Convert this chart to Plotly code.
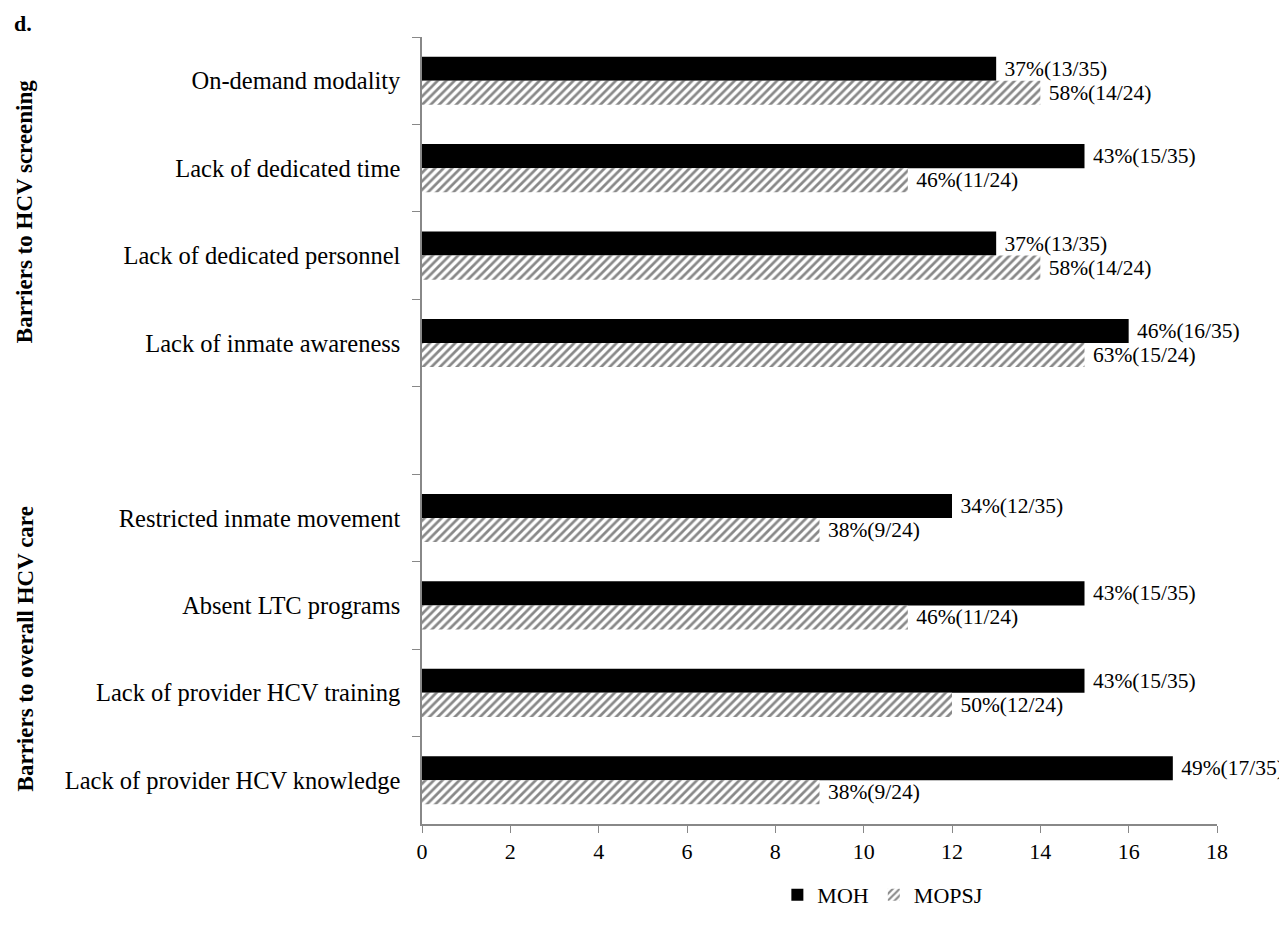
import plotly.graph_objects as go

categories = [
    "On-demand modality",
    "Lack of dedicated time",
    "Lack of dedicated personnel",
    "Lack of inmate awareness",
    " ",
    "Restricted inmate movement",
    "Absent LTC programs",
    "Lack of provider HCV training",
    "Lack of provider HCV knowledge",
]
moh_values = [13, 15, 13, 16, None, 12, 15, 15, 17]
mopsj_values = [14, 11, 14, 15, None, 9, 11, 12, 9]
moh_labels = ["37%(13/35)", "43%(15/35)", "37%(13/35)", "46%(16/35)", "",
              "34%(12/35)", "43%(15/35)", "43%(15/35)", "49%(17/35)"]
mopsj_labels = ["58%(14/24)", "46%(11/24)", "58%(14/24)", "63%(15/24)", "",
                "38%(9/24)", "46%(11/24)", "50%(12/24)", "38%(9/24)"]
group_titles = ["Barriers to HCV screening", "Barriers to overall HCV care"]
x_ticks = list(range(0, 19, 2))

FONT = "Liberation Serif, Times New Roman, serif"
pad = "\u00a0"

fig = go.Figure()
fig.add_trace(go.Bar(
    name="MOH", y=categories, x=moh_values, orientation="h",
    marker=dict(color="#000000", line=dict(width=0)),
    text=[pad + t if t else "" for t in moh_labels], textposition="outside",
    textfont=dict(family=FONT, size=21.5, color="#000"), cliponaxis=False,
))
fig.add_trace(go.Bar(
    name="MOPSJ", y=categories, x=mopsj_values, orientation="h",
    marker=dict(color="#ffffff", line=dict(width=0),
                pattern=dict(shape="/", fgcolor="#111111", bgcolor="#ffffff",
                             size=6, solidity=0.45)),
    text=[pad + t if t else "" for t in mopsj_labels], textposition="outside",
    textfont=dict(family=FONT, size=21.5, color="#000"), cliponaxis=False,
))

fig.update_layout(
    width=1279, height=920,
    margin=dict(l=414, r=70, t=29, b=88),
    paper_bgcolor="white", plot_bgcolor="white",
    barmode="group", bargap=0.45, bargroupgap=0,
    font=dict(family=FONT, size=22, color="#000"),
    showlegend=True,
    legend=dict(orientation="h", x=0.447, xanchor="left", y=-0.09, yanchor="middle",
                font=dict(family=FONT, size=22, color="#000"), itemwidth=30,
                bgcolor="rgba(0,0,0,0)"),
    xaxis=dict(range=[0, 18], tickvals=x_ticks, ticks="outside", ticklen=7,
               tickcolor="#888", showline=True, linecolor="#888", linewidth=1.5,
               showgrid=False, zeroline=False,
               tickfont=dict(family=FONT, size=22, color="#000")),
    yaxis=dict(type="category", categoryorder="array", categoryarray=categories,
               range=[len(categories) - 0.5, -0.5], tickson="boundaries",
               ticks="outside", ticklen=8, tickcolor="#888", showline=True,
               linecolor="#888", linewidth=1.5, showgrid=False, zeroline=False,
               ticklabelstandoff=15,
               tickfont=dict(family=FONT, size=24.5, color="#000")),
)

fig.add_annotation(text="<b>d.</b>", xref="paper", yref="paper", x=-0.516, y=1.0174,
                   xanchor="left", yanchor="middle", showarrow=False,
                   font=dict(family=FONT, size=22, color="#000"))
for title, ypos in zip(group_titles, [1.5, 6.5]):
    fig.add_annotation(text="<b>" + title + "</b>", xref="paper", yref="y",
                       x=-0.499, y=ypos, textangle=-90, showarrow=False,
                       xanchor="center", yanchor="middle",
                       font=dict(family=FONT, size=23, color="#000"))

fig.write_html("out.html")
